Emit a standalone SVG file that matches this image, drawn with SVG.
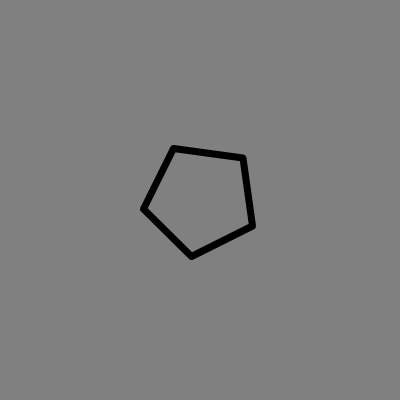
<svg xmlns="http://www.w3.org/2000/svg" width="400" height="400" viewBox="0 0 400 400">
<rect width="400" height="400" fill="#808080"/>
<polygon points="173.5,148.5 243,158 252.5,226 191.5,256.5 143.5,209" fill="none" stroke="#000" stroke-width="7" stroke-linejoin="round"/>
</svg>
